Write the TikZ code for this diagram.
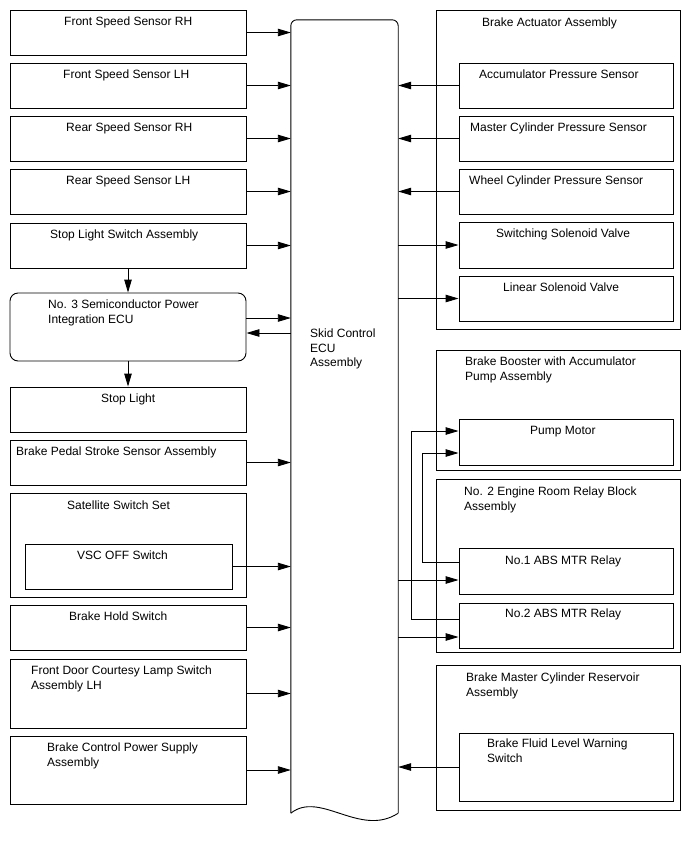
\documentclass[tikz,border=0pt]{standalone}
\usepackage{fontspec}
\setmainfont{Liberation Sans}
\usetikzlibrary{arrows.meta,fit}
\begin{document}
\begin{tikzpicture}[x=1pt,y=-1pt,
 box/.style={draw, line width=0.9pt, inner sep=0pt, rectangle},
 lbl/.style={anchor=north west, inner sep=0pt, align=left, font=\fontsize{12}{14.3}\selectfont},
 arr/.style={line width=0.9pt, -{Triangle[length=13pt,width=7.5pt]}},
 wire/.style={line width=0.9pt}]
\useasboundingbox (0,0) rectangle (688,852);
% left column
\node[box, fit={(10,10)(246,55)}] (fsrh) {};
\node[box, fit={(10,63)(246,108)}] (fslh) {};
\node[box, fit={(10,116)(246,161)}] (rsrh) {};
\node[box, fit={(10,169)(246,214)}] (rslh) {};
\node[box, fit={(10,223)(246,268)}] (sls) {};
\node[box, rounded corners=8pt, fit={(10,293)(246,361)}] (spi) {};
\node[box, fit={(10,387)(246,432)}] (stl) {};
\node[box, fit={(10,440)(246,485)}] (bps) {};
\node[box, fit={(10,493)(246,597)}] (sss) {};
\node[box, fit={(25,544)(232,589)}] (vsc) {};
\node[box, fit={(10,605)(246,650)}] (bhs) {};
\node[box, fit={(10,659)(246,728)}] (fdc) {};
\node[box, fit={(10,736)(246,804)}] (bcp) {};
% ECU
\node[inner sep=0pt, fit={(291,20)(398,813)}] (ecu) {};
\draw[wire, rounded corners=6pt] (ecu.south west) -- (ecu.north west) -- (ecu.north east) -- (ecu.south east);
\draw[wire] (ecu.south west) .. controls (320,790) and (360,838) .. (ecu.south east);
% right column
\node[box, fit={(436,10)(680,329)}] (baa) {};
\node[box, fit={(459,63)(673,108)}] (aps) {};
\node[box, fit={(459,116)(673,161)}] (mcp) {};
\node[box, fit={(459,169)(673,214)}] (wcp) {};
\node[box, fit={(459,222)(673,268)}] (ssv) {};
\node[box, fit={(459,276)(673,321)}] (lsv) {};
\node[box, fit={(436,350)(680,470)}] (bba) {};
\node[box, fit={(459,419)(673,465)}] (pm) {};
\node[box, fit={(436,479)(680,652)}] (erb) {};
\node[box, fit={(459,548)(673,594)}] (ra) {};
\node[box, fit={(459,603)(673,648)}] (rb) {};
\node[box, fit={(436,665)(680,810)}] (bmc) {};
\node[box, fit={(459,733)(673,801)}] (bfl) {};
% labels
\node[lbl] (tfsrh) at (64,17) {Front Speed Sensor RH};
\node[lbl] (tfslh) at (63,70) {Front Speed Sensor LH};
\node[lbl] (trsrh) at (66,123) {Rear Speed Sensor RH};
\node[lbl] (trslh) at (66,176) {Rear Speed Sensor LH};
\node[lbl] (tsls) at (50,230) {Stop Light Switch Assembly};
\node[lbl] (tspi) at (48,300) {No. 3 Semiconductor Power\\Integration ECU};
\node[lbl] (tstl) at (101,394) {Stop Light};
\node[lbl] (tbps) at (16,447) {Brake Pedal Stroke Sensor Assembly};
\node[lbl] (tsss) at (67,501) {Satellite Switch Set};
\node[lbl] (tvsc) at (77,551) {VSC OFF Switch};
\node[lbl] (tbhs) at (69,612) {Brake Hold Switch};
\node[lbl] (tfdc) at (31,666) {Front Door Courtesy Lamp Switch\\Assembly LH};
\node[lbl] (tbcp) at (47,743) {Brake Control Power Supply\\Assembly};
\node[lbl] (tecu) at (310,329) {Skid Control\\ECU\\Assembly};
\node[lbl] (tbaa) at (482,18) {Brake Actuator Assembly};
\node[lbl] (taps) at (479,70) {Accumulator Pressure Sensor};
\node[lbl] (tmcp) at (470,123) {Master Cylinder Pressure Sensor};
\node[lbl] (twcp) at (469,176) {Wheel Cylinder Pressure Sensor};
\node[lbl] (tssv) at (496,229) {Switching Solenoid Valve};
\node[lbl] (tlsv) at (503,283) {Linear Solenoid Valve};
\node[lbl] (tbba) at (465,357) {Brake Booster with Accumulator\\Pump Assembly};
\node[lbl] (tpm) at (530,426) {Pump Motor};
\node[lbl] (terb) at (464,487) {No. 2 Engine Room Relay Block\\Assembly};
\node[lbl] (tra) at (505,556) {No.1 ABS MTR Relay};
\node[lbl] (trb) at (505,609) {No.2 ABS MTR Relay};
\node[lbl] (tbmc) at (466,673) {Brake Master Cylinder Reservoir\\Assembly};
\node[lbl] (tbfl) at (487,739) {Brake Fluid Level Warning\\Switch};
% left arrows
\foreach \n in {fsrh,fslh,rsrh,rslh,sls,bps,vsc,bhs,fdc,bcp}
  \draw[arr] (\n.east) -- (\n.east -| ecu.west);
\draw[arr] ([yshift=9pt]spi.east) -- ([yshift=9pt]spi.east -| ecu.west);
\draw[arr] ([yshift=-6pt]spi.east -| ecu.west) -- ([yshift=-6pt]spi.east);
\draw[arr] (sls.south) -- (spi.north);
\draw[arr] (spi.south) -- (stl.north);
% right arrows
\foreach \n in {aps,mcp,wcp,bfl}
  \draw[arr] (\n.west) -- (\n.west -| ecu.east);
\foreach \n in {ssv,lsv}
  \draw[arr] (\n.west -| ecu.east) -- (\n.west);
\draw[arr] ([yshift=-9pt]ra.west -| ecu.east) -- ([yshift=-9pt]ra.west);
\draw[arr] ([yshift=-11.5pt]rb.west -| ecu.east) -- ([yshift=-11.5pt]rb.west);
\coordinate (ka) at (422,0);
\coordinate (kb) at (411,0);
\draw[arr] ([yshift=9pt]ra.west) -| ([yshift=-11pt]pm.west -| ka) -- ([yshift=-11pt]pm.west);
\draw[arr] ([yshift=6.5pt]rb.west) -| ([yshift=11pt]pm.west -| kb) -- ([yshift=11pt]pm.west);
\end{tikzpicture}
\end{document}
